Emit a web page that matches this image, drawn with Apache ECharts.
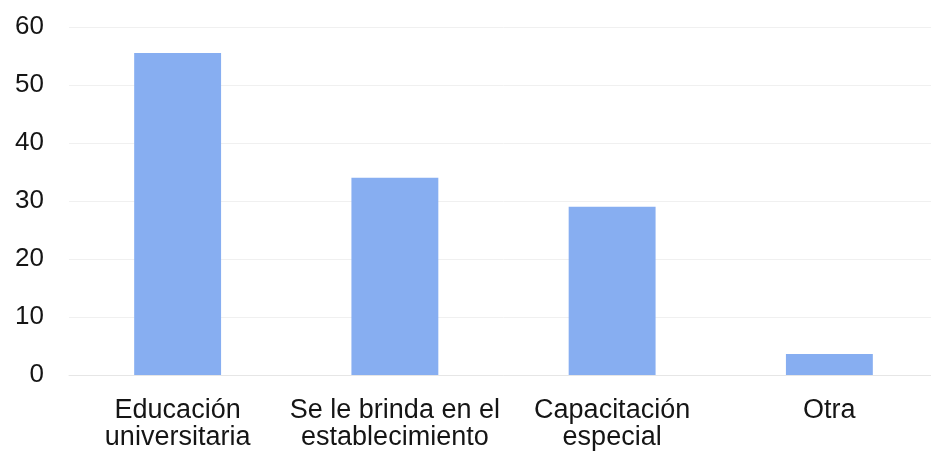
<!DOCTYPE html>
<html>
<head>
<meta charset="utf-8">
<script src="https://cdn.jsdelivr.net/npm/echarts@6/dist/echarts.min.js"></script>
<style>
  html, body { margin: 0; padding: 0; background: #ffffff; overflow: hidden; }
  /* plot area runs slightly past the right edge of the window */
  #chart { width: 938px; height: 452px; }
</style>
</head>
<body>
<div id="chart"></div>
<script>
// Categories (two-line labels) and values
const categories = [
  'Educación\nuniversitaria',
  'Se le brinda en el\nestablecimiento',
  'Capacitación\nespecial',
  'Otra'
];
const values = [55.5, 34, 29, 3.6];
const yTicks = [0, 10, 20, 30, 40, 50, 60];

const chart = echarts.init(document.getElementById('chart'), null, { renderer: 'canvas' });

chart.setOption({
  animation: false,
  backgroundColor: '#ffffff',
  grid: { left: 69, right: 0, top: 27, bottom: 77, containLabel: false },
  xAxis: {
    type: 'category',
    data: categories,
    axisLine: { show: true, lineStyle: { color: '#e6e6e6', width: 1 } },
    axisTick: { show: false },
    axisLabel: {
      color: '#151515',
      fontFamily: 'Liberation Sans, Arial, sans-serif',
      fontSize: 27,
      lineHeight: 27,
      margin: 22,
      interval: 0
    }
  },
  yAxis: {
    type: 'value',
    min: yTicks[0],
    max: yTicks[yTicks.length - 1],
    interval: 10,
    axisLine: { show: false },
    axisTick: { show: false },
    splitLine: { lineStyle: { color: '#f0f0f0', width: 1 } },
    axisLabel: {
      color: '#151515',
      fontFamily: 'Liberation Sans, Arial, sans-serif',
      fontSize: 26,
      margin: 25
    }
  },
  series: [{
    type: 'bar',
    data: values,
    barWidth: '40%',
    itemStyle: { color: '#87aef1' }
  }]
});
</script>
</body>
</html>
